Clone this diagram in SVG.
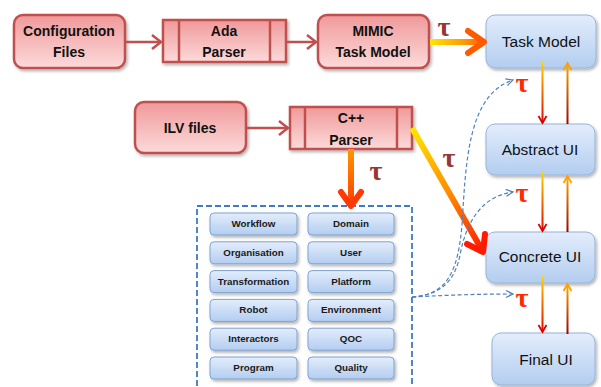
<svg xmlns="http://www.w3.org/2000/svg" width="601" height="387" viewBox="0 0 601 387">
<defs>
<linearGradient id="pink" x1="0" y1="0" x2="0" y2="1"><stop offset="0" stop-color="#f0999a"/><stop offset="1" stop-color="#fcdada"/></linearGradient>
<linearGradient id="blue" x1="0" y1="0" x2="0" y2="1"><stop offset="0" stop-color="#e3edfb"/><stop offset="1" stop-color="#b3cdf0"/></linearGradient>
<linearGradient id="gTask" gradientUnits="userSpaceOnUse" x1="430" y1="0" x2="486" y2="0"><stop offset="0" stop-color="#ffe600"/><stop offset="0.6" stop-color="#ff9a00"/><stop offset="1" stop-color="#ff5a00"/></linearGradient>
<linearGradient id="gDiag" gradientUnits="userSpaceOnUse" x1="412" y1="128" x2="483" y2="252"><stop offset="0" stop-color="#ffe600"/><stop offset="0.5" stop-color="#ff9000"/><stop offset="1" stop-color="#ff1a00"/></linearGradient>
<linearGradient id="gCpp" gradientUnits="userSpaceOnUse" x1="0" y1="150" x2="0" y2="207"><stop offset="0" stop-color="#ff9500"/><stop offset="1" stop-color="#ff3a00"/></linearGradient>
<linearGradient id="gDown" x1="0" y1="0" x2="0" y2="1"><stop offset="0" stop-color="#ffd800"/><stop offset="1" stop-color="#e00000"/></linearGradient>
<linearGradient id="gUp" x1="0" y1="0" x2="0" y2="1"><stop offset="0" stop-color="#ffb000"/><stop offset="1" stop-color="#a00000"/></linearGradient>
<filter id="sh" x="-10%" y="-10%" width="130%" height="140%"><feDropShadow dx="1.5" dy="2" stdDeviation="1.5" flood-color="#000" flood-opacity="0.3"/></filter>
<marker id="bArr" markerWidth="10" markerHeight="10" refX="8" refY="4" orient="auto" markerUnits="userSpaceOnUse"><path d="M1,0.5 L8,4 L1,7.5" fill="none" stroke="#4f81bd" stroke-width="1.2"/></marker>
</defs>
<style>
.pk{fill:url(#pink);stroke:#c0504d;stroke-width:2.5;filter:url(#sh)}
.bl{fill:url(#blue);stroke:#95b3d7;stroke-width:1;filter:url(#sh)}
.sb{fill:url(#blue);stroke:#7fa3d1;stroke-width:1;filter:url(#sh)}
.pl{stroke:#c0504d;stroke-width:2.5}
.t1{font-family:"Liberation Sans",Arial,sans-serif;font-weight:bold;font-size:14px;fill:#111;text-anchor:middle}
.t2{font-family:"Liberation Sans",Arial,sans-serif;font-size:15.5px;fill:#111;text-anchor:middle}
.t3{font-family:"Liberation Sans",Arial,sans-serif;font-weight:bold;font-size:9.8px;fill:#1a1a1a;text-anchor:middle}
.tau{font-family:"Liberation Serif","DejaVu Serif",serif;font-size:28px;font-weight:bold;text-anchor:middle}
.r{fill:#ff2a00}
.d{fill:#953735}
.ra{fill:none;stroke:#c0504d;stroke-width:2.5}
.dash{fill:none;stroke:#4f81bd;stroke-width:1.2;stroke-dasharray:4 2.5}
</style>

<g id="config-files"><rect class="pk" x="14" y="15" width="111" height="53" rx="9"/><text class="t1" x="69" y="36">Configuration</text><text class="t1" x="69" y="57">Files</text></g>
<g id="ada-parser"><rect class="pk" x="163" y="20" width="123" height="42"/><line class="pl" x1="179" y1="20" x2="179" y2="62"/><line class="pl" x1="270" y1="20" x2="270" y2="62"/><text class="t1" x="224" y="36">Ada</text><text class="t1" x="224" y="57">Parser</text></g>
<g id="mimic"><rect class="pk" x="318" y="15" width="111" height="53" rx="9"/><text class="t1" x="373" y="36">MIMIC</text><text class="t1" x="373" y="57">Task Model</text></g>
<g id="ilv-files"><rect class="pk" x="135" y="102" width="111" height="51" rx="9"/><text class="t1" x="190" y="133">ILV files</text></g>
<g id="cpp-parser"><rect class="pk" x="290" y="107" width="122" height="42"/><line class="pl" x1="305" y1="107" x2="305" y2="149"/><line class="pl" x1="397" y1="107" x2="397" y2="149"/><text class="t1" x="351" y="123">C++</text><text class="t1" x="351" y="145">Parser</text></g>

<g id="task-model"><rect class="bl" x="486" y="15" width="110" height="53" rx="9"/><text class="t2" x="541" y="47">Task Model</text></g>
<g id="abstract-ui"><rect class="bl" x="486" y="124" width="109" height="51" rx="9"/><text class="t2" x="540" y="155">Abstract UI</text></g>
<g id="concrete-ui"><rect class="bl" x="486" y="232" width="109" height="51" rx="9"/><text class="t2" x="540" y="262">Concrete UI</text></g>
<g id="final-ui"><rect class="bl" x="492" y="333" width="103" height="52" rx="9"/><text class="t2" x="546" y="365">Final UI</text></g>

<g id="models">
<rect x="197" y="206" width="215" height="190" fill="none" stroke="#3f7bc4" stroke-width="1.8" stroke-dasharray="6 3"/>
<g id="m-workflow"><rect class="sb" x="210" y="213" width="87" height="22" rx="4"/><text class="t3" x="253.5" y="227">Workflow</text></g>
<g id="m-domain"><rect class="sb" x="308" y="213" width="86" height="22" rx="4"/><text class="t3" x="351" y="227">Domain</text></g>
<g id="m-organisation"><rect class="sb" x="210" y="241.8" width="87" height="22" rx="4"/><text class="t3" x="253.5" y="255.8">Organisation</text></g>
<g id="m-user"><rect class="sb" x="308" y="241.8" width="86" height="22" rx="4"/><text class="t3" x="351" y="255.8">User</text></g>
<g id="m-transformation"><rect class="sb" x="210" y="270.6" width="87" height="22" rx="4"/><text class="t3" x="253.5" y="284.6">Transformation</text></g>
<g id="m-platform"><rect class="sb" x="308" y="270.6" width="86" height="22" rx="4"/><text class="t3" x="351" y="284.6">Platform</text></g>
<g id="m-robot"><rect class="sb" x="210" y="299.4" width="87" height="22" rx="4"/><text class="t3" x="253.5" y="313.4">Robot</text></g>
<g id="m-environment"><rect class="sb" x="308" y="299.4" width="86" height="22" rx="4"/><text class="t3" x="351" y="313.4">Environment</text></g>
<g id="m-interactors"><rect class="sb" x="210" y="328.2" width="87" height="22" rx="4"/><text class="t3" x="253.5" y="342.2">Interactors</text></g>
<g id="m-qoc"><rect class="sb" x="308" y="328.2" width="86" height="22" rx="4"/><text class="t3" x="351" y="342.2">QOC</text></g>
<g id="m-program"><rect class="sb" x="210" y="357" width="87" height="22" rx="4"/><text class="t3" x="253.5" y="371">Program</text></g>
<g id="m-quality"><rect class="sb" x="308" y="357" width="86" height="22" rx="4"/><text class="t3" x="351" y="371">Quality</text></g>
</g>

<g id="connectors">
<line class="pl" x1="125" y1="42" x2="161" y2="42"/><path class="ra" d="M152,35 L161,42 L152,49"/>
<line class="pl" x1="286" y1="42" x2="316" y2="42"/><path class="ra" d="M307,35 L316,42 L307,49"/>
<line class="pl" x1="246" y1="128" x2="288" y2="128"/><path class="ra" d="M279,121 L288,128 L279,135"/>

<line x1="430" y1="42" x2="484" y2="42" stroke="url(#gTask)" stroke-width="6"/>
<path d="M468,31 L484,42 L468,53" fill="none" stroke="#ff5a00" stroke-width="6" stroke-linejoin="round" stroke-linecap="round"/>

<line x1="351" y1="149" x2="351" y2="205" stroke="url(#gCpp)" stroke-width="6"/>
<path d="M341,192 L351,206 L361,192" fill="none" stroke="#ff3a00" stroke-width="6" stroke-linejoin="round" stroke-linecap="round"/>

<line x1="412" y1="128" x2="482" y2="250" stroke="url(#gDiag)" stroke-width="6"/>
<path d="M467,244 L483,252 L485,234" fill="none" stroke="#ff1a00" stroke-width="6" stroke-linejoin="round" stroke-linecap="round"/>

<rect x="541.5" y="62" width="2" height="61" fill="url(#gDown)"/><path d="M538.5,116 L542.5,123 L546.5,116" fill="none" stroke="#e00000" stroke-width="1.8"/>
<rect x="566.5" y="63" width="2" height="61" fill="url(#gUp)"/><path d="M563.5,70 L567.5,63 L571.5,70" fill="none" stroke="#ffa000" stroke-width="1.8"/>
<rect x="541.5" y="172" width="2" height="59" fill="url(#gDown)"/><path d="M538.5,224 L542.5,231 L546.5,224" fill="none" stroke="#e00000" stroke-width="1.8"/>
<rect x="566.5" y="176" width="2" height="56" fill="url(#gUp)"/><path d="M563.5,183 L567.5,176 L571.5,183" fill="none" stroke="#ffa000" stroke-width="1.8"/>
<rect x="541.5" y="276" width="2" height="56" fill="url(#gDown)"/><path d="M538.5,325 L542.5,332 L546.5,325" fill="none" stroke="#e00000" stroke-width="1.8"/>
<rect x="566.5" y="284" width="2" height="50" fill="url(#gUp)"/><path d="M563.5,291 L567.5,284 L571.5,291" fill="none" stroke="#ffa000" stroke-width="1.8"/>

<path class="dash" marker-end="url(#bArr)" d="M412,297 C448,295 458,270 462,225 C466,160 468,95 513,80"/>
<path class="dash" marker-end="url(#bArr)" d="M412,297 C442,295 455,280 460,255 C466,222 482,196 513,192"/>
<path class="dash" marker-end="url(#bArr)" d="M412,297 C450,295 480,294 513,294"/>
</g>

<g id="labels">
<text class="tau d" x="444" y="36">τ</text>
<text class="tau r" x="522" y="92">τ</text>
<text class="tau r" x="522" y="202">τ</text>
<text class="tau r" x="522" y="307">τ</text>
<text class="tau d" x="376" y="180">τ</text>
<text class="tau d" x="449" y="167">τ</text>
</g>
</svg>
